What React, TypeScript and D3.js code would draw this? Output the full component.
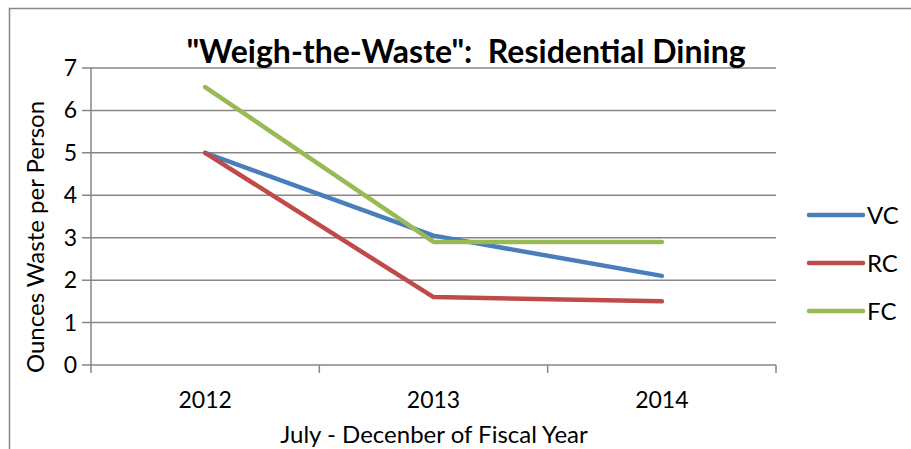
import React from "react";
import * as d3 from "d3";

const categories = ["2012", "2013", "2014"];
const seriesNames = ["VC", "RC", "FC"];
const vcValues = [5.0, 3.05, 2.1];
const rcValues = [5.0, 1.6, 1.5];
const fcValues = [6.55, 2.9, 2.9];
const yTicks = [0, 1, 2, 3, 4, 5, 6, 7];
const colors = ["#4A7EBB", "#BE4B48", "#98B954"];
const title = "\"Weigh-the-Waste\":  Residential Dining";
const xTitle = "July - Decenber of Fiscal Year";
const yTitle = "Ounces Waste per Person";

const W = 911, H = 449;
const left = 91, right = 776, top = 68, bottom = 365;
const font = "Lato, 'Open Sans', sans-serif";

export default function App() {
  const x = d3.scaleBand<string>().domain(categories).range([left, right]).padding(0);
  const y = d3.scaleLinear().domain([0, 7]).range([bottom, top]);
  const data = [vcValues, rcValues, fcValues];
  const line = d3.line<number>()
    .x((_, i) => (x(categories[i]) as number) + x.bandwidth() / 2)
    .y((d) => y(d));
  const boundaries = [...categories.map((c) => x(c) as number), right];
  const legendY = [215, 263, 311];
  return (
    <svg width={W} height={H} style={{ position: "absolute", left: 0, top: 0, fontFamily: font }}>
      <rect x={0} y={0} width={W} height={H} fill="#fff" />
      <path d={`M9.5,${H} V8.5 H${W}`} fill="none" stroke="#868686" strokeWidth={1.5} />
      {yTicks.map((t) => (
        <g key={t}>
          <line x1={82} x2={right} y1={y(t)} y2={y(t)} stroke="#868686" strokeWidth={1.5} />
          <text x={77} y={y(t) + 8} textAnchor="end" fontSize={23} fill="#000">{t}</text>
        </g>
      ))}
      <line x1={left} x2={left} y1={top} y2={bottom} stroke="#868686" strokeWidth={1.5} />
      {boundaries.map((b, i) => (
        <line key={i} x1={b} x2={b} y1={bottom} y2={bottom + 8} stroke="#868686" strokeWidth={1.5} />
      ))}
      {categories.map((c) => (
        <text key={c} x={(x(c) as number) + x.bandwidth() / 2} y={408} textAnchor="middle" fontSize={23} fill="#000">{c}</text>
      ))}
      {data.map((d, i) => (
        <path key={i} d={line(d) || ""} fill="none" stroke={colors[i]} strokeWidth={4.5} strokeLinecap="round" strokeLinejoin="round" />
      ))}
      {seriesNames.map((s, i) => (
        <g key={s}>
          <line x1={809} x2={863} y1={legendY[i]} y2={legendY[i]} stroke={colors[i]} strokeWidth={4.5} strokeLinecap="round" />
          <text x={867} y={legendY[i] + 9} fontSize={24} fill="#000">{s}</text>
        </g>
      ))}
      <text x={466} y={63} textAnchor="middle" fontSize={32} fontWeight="bold" fill="#000" style={{ whiteSpace: "pre" }}>{title}</text>
      <text x={434} y={443} textAnchor="middle" fontSize={24} fill="#000">{xTitle}</text>
      <text transform={`translate(44,237) rotate(-90)`} textAnchor="middle" fontSize={24} fill="#000">{yTitle}</text>
    </svg>
  );
}
